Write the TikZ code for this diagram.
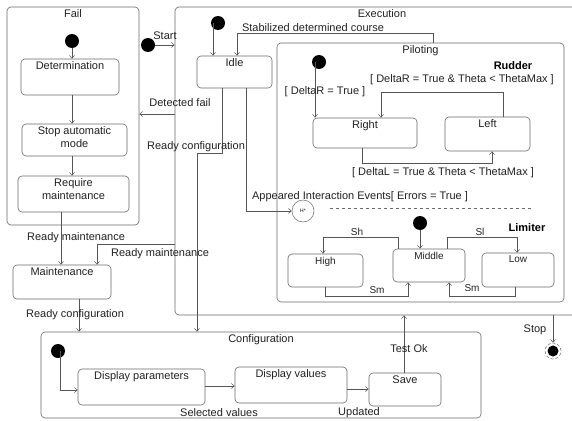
\documentclass[tikz,border=0pt]{standalone}
\usepackage{fontspec}
\setmainfont{Liberation Sans}
\usetikzlibrary{arrows.meta,calc}
\definecolor{linec}{HTML}{555555}
\definecolor{boxc}{HTML}{6A6A6A}
\definecolor{txtc}{HTML}{222222}
\begin{document}
\begin{tikzpicture}[x=1pt,y=-1pt,
  lbl/.style={font=\fontsize{11}{13}\selectfont, text=txtc, inner sep=0pt},
  slbl/.style={font=\fontsize{10}{12}\selectfont, text=txtc, inner sep=0pt},
  blbl/.style={font=\fontsize{11}{13}\selectfont\bfseries, text=black, inner sep=0pt},
  state/.style={draw=boxc, rounded corners=4pt, line width=0.6pt, inner sep=0pt},
  ttl/.style={label={[lbl, align=center, anchor=north, yshift=-3pt]north:#1}},
  sttl/.style={label={[slbl, align=center, anchor=north, yshift=-3pt]north:#1}},
  initdot/.style={circle, fill=black, minimum size=14pt, inner sep=0pt},
  arr/.style={draw=linec, line width=0.5pt, -{Straight Barb[length=3pt,width=5pt]}}
]
\clip (0,0) rectangle (572,420);
\fill[white] (0,0) rectangle (572,420);

% containers
\node[state, minimum width=132pt, minimum height=218pt, ttl=Fail] (fail) at (73,116) {};
\node[state, minimum width=414pt, minimum height=308pt, ttl=Execution] (exec) at (382,161) {};
\node[state, minimum width=287pt, minimum height=259pt, ttl=Piloting] (pilot) at (420.5,172.5) {};
\node[state, minimum width=440pt, minimum height=86pt, ttl=Configuration] (config) at (261,375) {};

% Fail states
\node[initdot] (faildot) at (72,41) {};
\node[state, minimum width=98pt, minimum height=36pt, ttl=Determination] (det) at (70,77) {};
\node[state, minimum width=105pt, minimum height=32pt, ttl={Stop automatic\\mode}] (stop) at (74.5,140) {};
\node[state, minimum width=111pt, minimum height=36pt, ttl={Require\\maintenance}] (req) at (73.5,194) {};
\node[state, minimum width=98pt, minimum height=34pt, ttl=Maintenance] (maint) at (62,282) {};

% Execution
\node[initdot] (startdot) at (148,45) {};
\node[initdot] (exdot) at (218,23) {};
\node[state, minimum width=75pt, minimum height=32pt, ttl=Idle] (idle) at (234.5,72) {};
\node[circle, draw=boxc, line width=0.5pt, minimum size=22pt, inner sep=0pt, font=\fontsize{5}{6}\selectfont] (hist) at (303,211) {H*};

% Rudder
\node[initdot] (rdot) at (319,62) {};
\node[state, minimum width=104pt, minimum height=30pt, ttl=Right] (right) at (365,133) {};
\node[state, minimum width=85pt, minimum height=34pt, ttl=Left] (left) at (487.5,134) {};

% Limiter
\node[initdot] (ldot) at (420,223) {};
\node[state, minimum width=75pt, minimum height=33pt, sttl=High] (high) at (325.5,270.5) {};
\node[state, minimum width=72pt, minimum height=33pt, sttl=Middle] (middle) at (429,265.5) {};
\node[state, minimum width=72pt, minimum height=34pt, sttl=Low] (low) at (518,270) {};

% Configuration
\node[initdot] (cdot) at (58,351) {};
\node[state, minimum width=127pt, minimum height=36pt, ttl=Display parameters] (dp) at (141.5,387) {};
\node[state, minimum width=112pt, minimum height=36pt, ttl=Display values] (dv) at (291,385) {};
\node[state, minimum width=72pt, minimum height=33pt, ttl=Save] (save) at (405,389.5) {};

% final state
\node[circle, draw=boxc, densely dashed, line width=0.5pt, minimum size=16pt, inner sep=0pt] (final) at (553,351) {};
\fill[black] (final.center) circle (5.5pt);

% dashed separator
\draw[boxc, line width=0.5pt, dash pattern=on 3pt off 3pt] (330,208) -- (532,208);

% connectors: Fail
\draw[arr] (faildot) -- (faildot |- det.north);
\draw[arr] (faildot |- det.south) -- (faildot |- stop.north);
\draw[arr] (faildot |- stop.south) -- (faildot |- req.north);
\draw[arr] ([xshift=-12.5pt]req.south) -- ([xshift=-12.5pt]req.south |- maint.north);
\draw[arr] (exec.west |- 0,244) -| ([xshift=35pt]maint.north);
\draw[arr] ([xshift=17pt]maint.south) -- ([xshift=17pt]maint.south |- config.north);
\draw[arr] (startdot) -- (startdot -| exec.west);
\draw[arr] (exec.west |- 0,114) -- (fail.east |- 0,114);

% Execution
\draw[arr] ([xshift=-5pt]exdot.center) -- ([xshift=-5pt]exdot.center |- idle.north);
\draw[arr] ([xshift=12.5pt]pilot.north) |- ([xshift=2.5pt]idle.north |- 0,33) -- ([xshift=2.5pt]idle.north);
\draw[arr] ([xshift=-12.5pt]idle.south) |- (197,153) -- (197,153 |- config.north);
\draw[arr] ([xshift=11.5pt]idle.south) |- (hist.west);

% Rudder
\draw[arr] ([xshift=-4pt]rdot.center) -- ([xshift=-4pt]rdot.center |- right.north);
\draw[arr] ([xshift=15.5pt]left.north) |- (381,92) -- (381,92 |- right.north);
\draw[arr] ([xshift=-3pt]right.south) |- (492,163) -- (492,163 |- left.south);

% Limiter
\draw[arr] (ldot) -- (ldot |- middle.north);
\draw[arr] ([xshift=-31pt]middle.north) |- (323,237) -- (323,237 |- high.north);
\draw[arr] ([xshift=18pt]middle.north) |- (517,237) -- (517,237 |- low.north);
\draw[arr] (high.south) |- (408,296) -- (408,296 |- middle.south);
\draw[arr] ([xshift=-3pt]low.south) |- (449,296) -- (449,296 |- middle.south);

% Configuration
\draw[arr] ([xshift=2pt]cdot.center) |- (dp.west |- 0,390);
\draw[arr] (dp.east |- 0,386) -- (dv.west |- 0,386);
\draw[arr] (dv.east |- 0,389) -- (save.west |- 0,389);
\draw[arr] ([xshift=-1pt]save.north) -- ([xshift=-1pt]save.north |- exec.south);
\draw[arr] (final |- exec.south) -- (final.north);

% labels
\node[lbl] (l1) at (76,238) {Ready maintenance};
\node[lbl] (l2) at (160,254) {Ready maintenance};
\node[lbl] (l3) at (75,315) {Ready configuration};
\node[lbl] (l4) at (165,36) {Start};
\node[lbl] (l5) at (180,103) {Detected fail};
\node[lbl] (l6) at (196,147) {Ready configuration};
\node[lbl] (l7) at (313,28) {Stabilized determined course};
\node[lbl] (l8) at (360,197) {Appeared Interaction Events[ Errors = True ]};
\node[lbl] (l9) at (325,92) {[ DeltaR = True ]};
\node[lbl] (l10) at (462,80) {[ DeltaR = True \& Theta < ThetaMax ]};
\node[lbl] (l11) at (443,173) {[ DeltaL = True \& Theta < ThetaMax ]};
\node[blbl] (l12) at (513,66) {Rudder};
\node[blbl] (l13) at (527,228) {Limiter};
\node[slbl] (l14) at (357,232) {Sh};
\node[slbl] (l15) at (480,232) {Sl};
\node[slbl] (l16) at (377,290) {Sm};
\node[slbl] (l17) at (472,288) {Sm};
\node[lbl] (l18) at (409,349) {Test Ok};
\node[lbl] (l19) at (219,413) {Selected values};
\node[lbl] (l20) at (359,413) {Updated};
\node[lbl] (l21) at (535,330) {Stop};
\end{tikzpicture}
\end{document}
